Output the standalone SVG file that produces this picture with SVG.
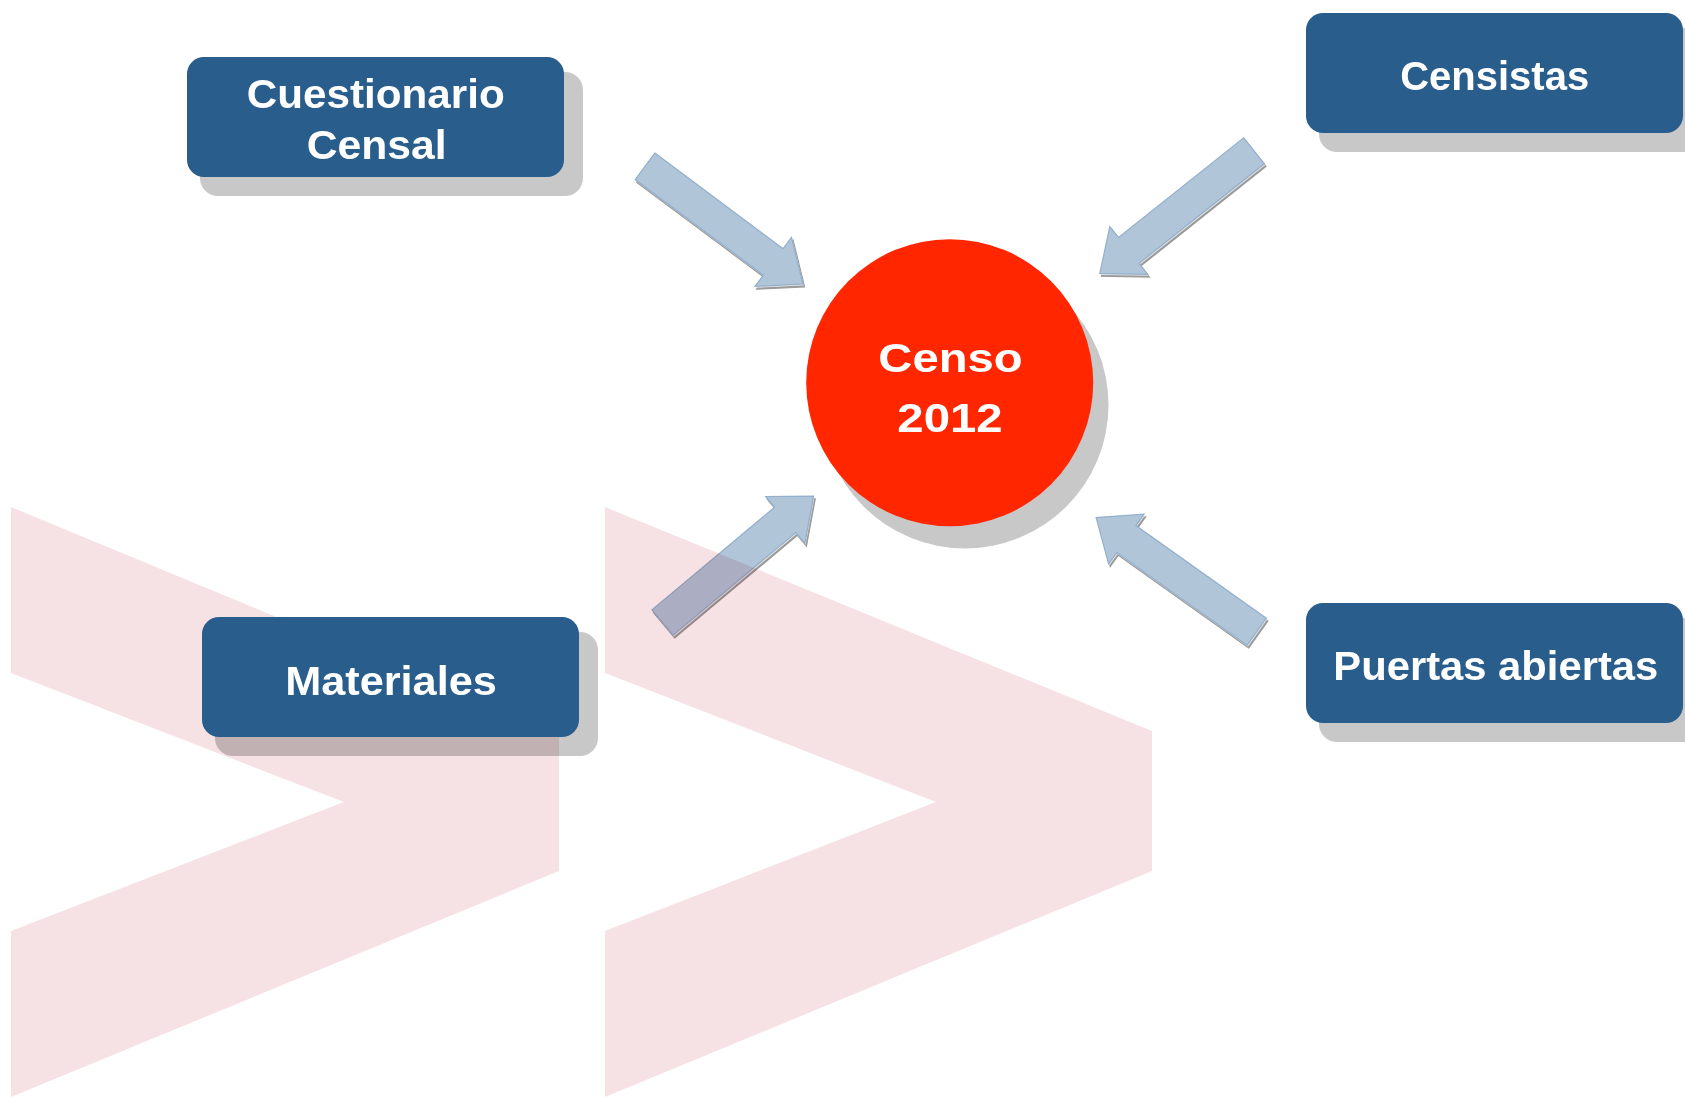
<svg xmlns="http://www.w3.org/2000/svg" xmlns:xlink="http://www.w3.org/1999/xlink" width="1685" height="1097" viewBox="0 0 1685 1097">
  <style>
    .bg { fill: #ffffff; }
    .chev { fill: #f6e2e4; }
    .box { fill: #295d8c; }
    .shadow { fill: #c8c8c8; mix-blend-mode: multiply; }
    .label { font-family: "Liberation Sans", Arial, sans-serif; font-weight: bold; font-size: 41px; fill: #ffffff; text-anchor: middle; }
    .core { fill: #ff2600; }
    .arrow { mix-blend-mode: multiply; }
    .a-dark { fill: #9a9a9a; stroke: #9a9a9a; stroke-width: 1.2; }
    .a-light { fill: #e2e2e2; }
    .a-main { fill: #b1c5d9; stroke: #93afcc; stroke-width: 1.2; }
  </style>
  <defs>
    <polygon id="arw" points="0,-16.5 160,-16.5 160,-30.5 197,0 160,30.5 160,16.5 0,16.5"/>
  </defs>
  <rect class="bg" x="0" y="0" width="1685" height="1097"/>

  <g id="background">
    <polygon class="chev" points="11,507 559,734 559,871 11,1097 11,931 344,802 11,673"/>
    <polygon class="chev" points="605,507 1152,731 1152,871 605,1097 605,931 936,802 605,673"/>
  </g>

  <g id="connectors">
    <g class="arrow">
      <g transform="translate(1.6,2.8)"><use xlink:href="#arw" href="#arw" class="a-dark" transform="translate(645,166.3) rotate(36.7)"/></g>
      <g transform="translate(0.8,1.5)"><use xlink:href="#arw" href="#arw" class="a-light" transform="translate(645,166.3) rotate(36.7)"/></g>
      <use xlink:href="#arw" href="#arw" class="a-main" transform="translate(645,166.3) rotate(36.7)"/>
    </g>
    <g class="arrow">
      <g transform="translate(1.6,2.8)"><use xlink:href="#arw" href="#arw" class="a-dark" transform="translate(1254,150.8) rotate(141.5)"/></g>
      <g transform="translate(0.8,1.5)"><use xlink:href="#arw" href="#arw" class="a-light" transform="translate(1254,150.8) rotate(141.5)"/></g>
      <use xlink:href="#arw" href="#arw" class="a-main" transform="translate(1254,150.8) rotate(141.5)"/>
    </g>
    <g class="arrow">
      <g transform="translate(1.6,2.8)"><use xlink:href="#arw" href="#arw" class="a-dark" transform="translate(662.5,622.5) rotate(-39.9)"/></g>
      <g transform="translate(0.8,1.5)"><use xlink:href="#arw" href="#arw" class="a-light" transform="translate(662.5,622.5) rotate(-39.9)"/></g>
      <use xlink:href="#arw" href="#arw" class="a-main" transform="translate(662.5,622.5) rotate(-39.9)"/>
    </g>
    <g class="arrow">
      <g transform="translate(1.6,2.8)"><use xlink:href="#arw" href="#arw" class="a-dark" transform="translate(1256.7,631.7) rotate(-144.6)"/></g>
      <g transform="translate(0.8,1.5)"><use xlink:href="#arw" href="#arw" class="a-light" transform="translate(1256.7,631.7) rotate(-144.6)"/></g>
      <use xlink:href="#arw" href="#arw" class="a-main" transform="translate(1256.7,631.7) rotate(-144.6)"/>
    </g>
  </g>

  <g id="node-cuestionario">
    <rect class="shadow" x="200" y="72" width="383" height="124" rx="18"/>
    <rect class="box" x="187" y="57" width="377" height="120" rx="17"/>
    <text class="label" x="375.8" y="108.3" textLength="258" lengthAdjust="spacingAndGlyphs">Cuestionario</text>
    <text class="label" x="376.7" y="159.3" textLength="140" lengthAdjust="spacingAndGlyphs">Censal</text>
  </g>

  <g id="node-censistas">
    <rect class="shadow" x="1319" y="28" width="383" height="124" rx="18"/>
    <rect class="box" x="1306" y="13" width="377" height="120" rx="17"/>
    <text class="label" x="1494.7" y="90" textLength="189" lengthAdjust="spacingAndGlyphs">Censistas</text>
  </g>

  <g id="node-materiales">
    <rect class="shadow" x="215" y="632" width="383" height="124" rx="18"/>
    <rect class="box" x="202" y="617" width="377" height="120" rx="17"/>
    <text class="label" x="391" y="695" textLength="211.7" lengthAdjust="spacingAndGlyphs">Materiales</text>
  </g>

  <g id="node-puertas">
    <rect class="shadow" x="1319" y="618" width="383" height="124" rx="18"/>
    <rect class="box" x="1306" y="603" width="377" height="120" rx="17"/>
    <text class="label" x="1495.8" y="680" textLength="325" lengthAdjust="spacingAndGlyphs">Puertas abiertas</text>
  </g>

  <g id="node-censo">
    <circle class="shadow" cx="965" cy="405" r="143.5"/>
    <circle class="core" cx="949.7" cy="382.7" r="143.5"/>
    <text class="label" x="950.5" y="371.7" textLength="144.4" lengthAdjust="spacingAndGlyphs">Censo</text>
    <text class="label" x="950" y="431.7" textLength="105.4" lengthAdjust="spacingAndGlyphs">2012</text>
  </g>
</svg>
